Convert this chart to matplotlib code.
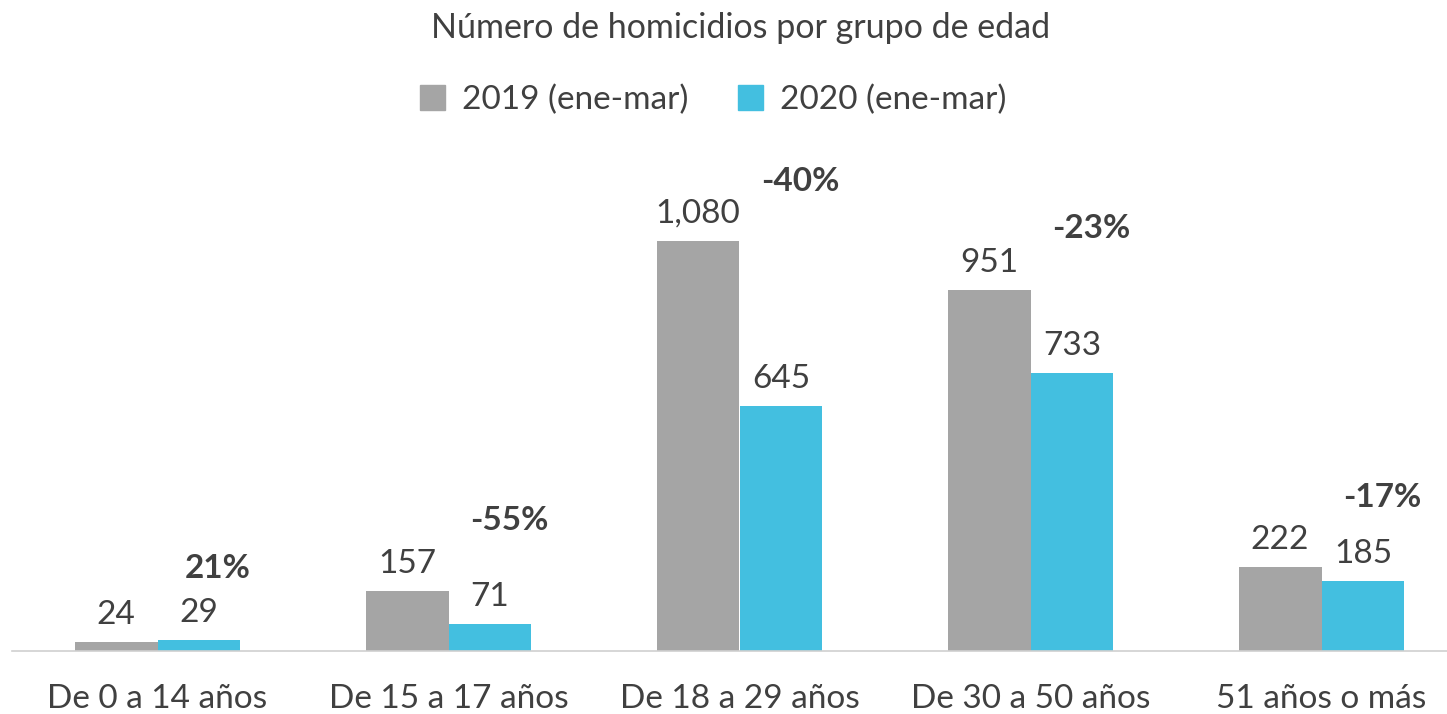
import matplotlib
matplotlib.use("Agg")
from matplotlib import pyplot as plt
from matplotlib.patches import Patch
import numpy as np

grupos = ['De 0 a 14 años', 'De 15 a 17 años', 'De 18 a 29 años', 'De 30 a 50 años', '51 años o más']
v2019 = [24, 157, 1080, 951, 222]
v2020 = [29, 71, 645, 733, 185]
cambio = ['21%', '-55%', '-40%', '-23%', '-17%']

gris = '#A5A5A5'
azul = '#43BFE0'
texto = '#404040'

plt.rcParams['font.family'] = ['Lato', 'DejaVu Sans']

fig = plt.figure(figsize=(14.47, 7.14), dpi=100)
# baseline ~651px from top, 0.3796 px per unit
ax = fig.add_axes([12 / 1447, (714 - 651) / 714, 1455 / 1447, 1200 * 0.3796 / 714])

x = np.arange(len(grupos))
w = 0.285
ax.bar(x - w / 2, v2019, w, color=gris)
ax.bar(x + w / 2, v2020, w, color=azul)

for i in range(len(grupos)):
    ax.text(x[i] - w / 2, v2019[i] + 32, f'{v2019[i]:,}', ha='center', va='bottom',
            fontsize=24, color=texto)
    ax.text(x[i] + w / 2, v2020[i] + 32, f'{v2020[i]:,}', ha='center', va='bottom',
            fontsize=24, color=texto)
    m = max(v2019[i], v2020[i])
    ax.text(x[i] + w / 2 + 0.065, m + 152 - 0.03 * m, cambio[i], ha='center',
            va='bottom', fontsize=24, fontweight='bold', color=texto)

ax.set_xlim(-0.5, 4.5)
ax.set_ylim(0, 1200)
ax.set_xticks(x)
ax.set_xticklabels(grupos, fontsize=24, color=texto)
ax.tick_params(axis='x', length=0, pad=24)
ax.set_yticks([])
for s in ['top', 'right', 'left']:
    ax.spines[s].set_visible(False)
ax.spines['bottom'].set_color('#D0D0D0')
ax.spines['bottom'].set_linewidth(1.2)

fig.text(0.512, 1 - 28 / 714, 'Número de homicidios por grupo de edad', ha='center', va='center',
         fontsize=24.5, color=texto)
fig.legend(handles=[Patch(color=gris), Patch(color=azul)],
           labels=['2019 (ene-mar)', '2020 (ene-mar)'], loc='center',
           bbox_to_anchor=(0.493, 1 - 100 / 714), ncol=2, frameon=False, fontsize=24,
           labelcolor=texto, handlelength=0.75, handleheight=0.75, columnspacing=1.5,
           handletextpad=0.5)

fig.savefig('out.png', dpi=100)
